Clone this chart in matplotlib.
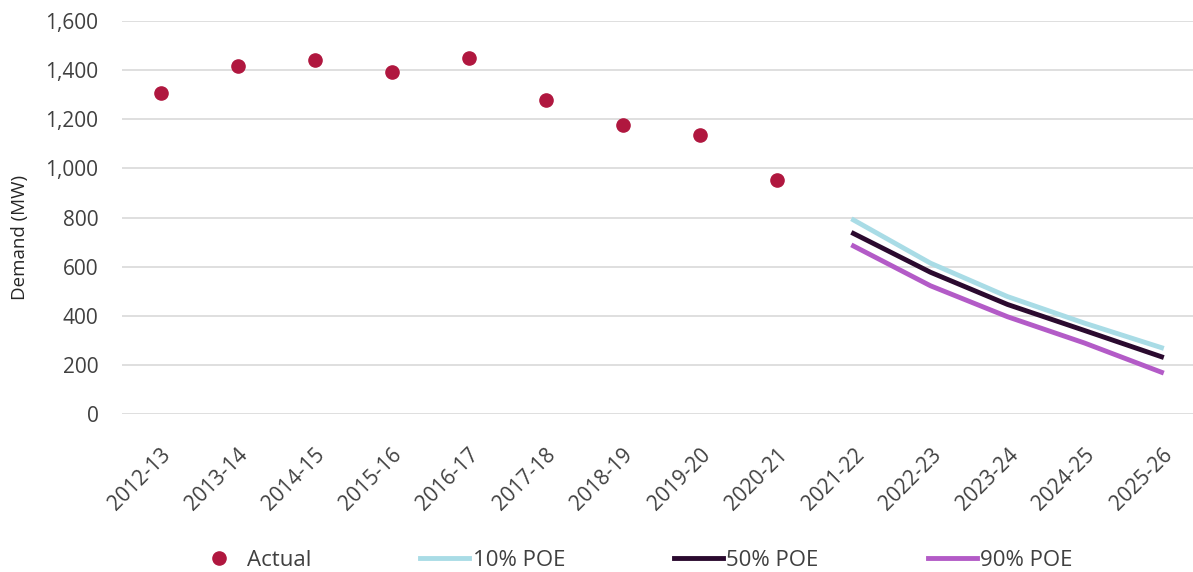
import matplotlib.pyplot as plt
from matplotlib.ticker import FuncFormatter

plt.rcParams['font.family'] = ['Open Sans', 'DejaVu Sans']

years = ['2012-13', '2013-14', '2014-15', '2015-16', '2016-17', '2017-18', '2018-19',
         '2019-20', '2020-21', '2021-22', '2022-23', '2023-24', '2024-25', '2025-26']
actual = [1307, 1417, 1441, 1392, 1450, 1278, 1177, 1136, 953]
poe10 = [790, 614, 478, 370, 270]
poe50 = [735, 577, 446, 340, 233]
poe90 = [684, 522, 396, 289, 170]

fig = plt.figure(figsize=(11.93, 5.72), dpi=100)
ax = fig.add_axes([122 / 1193, 1 - 414 / 572, (1200 - 122) / 1193, (414 - 21) / 572])

x = list(range(len(years)))
fc = x[9:]
ax.plot(x[:len(actual)], actual, 'o', color='#B0173F', markersize=9.5, label='Actual', zorder=3)
ax.plot(fc, poe10, color='#A9DCE6', lw=3.5, label='10% POE', zorder=3)
ax.plot(fc, poe50, color='#2B0A2F', lw=3.5, label='50% POE', zorder=4)
ax.plot(fc, poe90, color='#B35BC7', lw=3.5, label='90% POE', zorder=3)

ax.set_xlim(-0.5, len(years) - 0.5)
ax.set_ylim(0, 1600)
ax.set_yticks(range(0, 1601, 200))
ax.yaxis.set_major_formatter(FuncFormatter(lambda v, p: f'{int(v):,}'))
ax.set_xticks(x)
ax.set_xticklabels(years, rotation=45, ha='right', rotation_mode='anchor')
ax.grid(axis='y', color='#D9D9D9', lw=1.2)
ax.set_axisbelow(True)
for s in ax.spines.values():
    s.set_visible(False)
ax.tick_params(length=0, labelsize=15, colors='#404040')
ax.tick_params(axis='y', pad=17)
ax.tick_params(axis='x', pad=22)
ax.set_ylabel('Demand (MW)', fontsize=13.5, color='#262626')
ax.yaxis.set_label_coords(-0.086, 0.448)

fig.legend(loc='center', bbox_to_anchor=(0.531, 1 - 560 / 572), ncol=4, frameon=False,
           fontsize=16, handlelength=2.2, handletextpad=0.15, columnspacing=4.92,
           labelcolor='#404040')

fig.savefig('out.png', dpi=100)
